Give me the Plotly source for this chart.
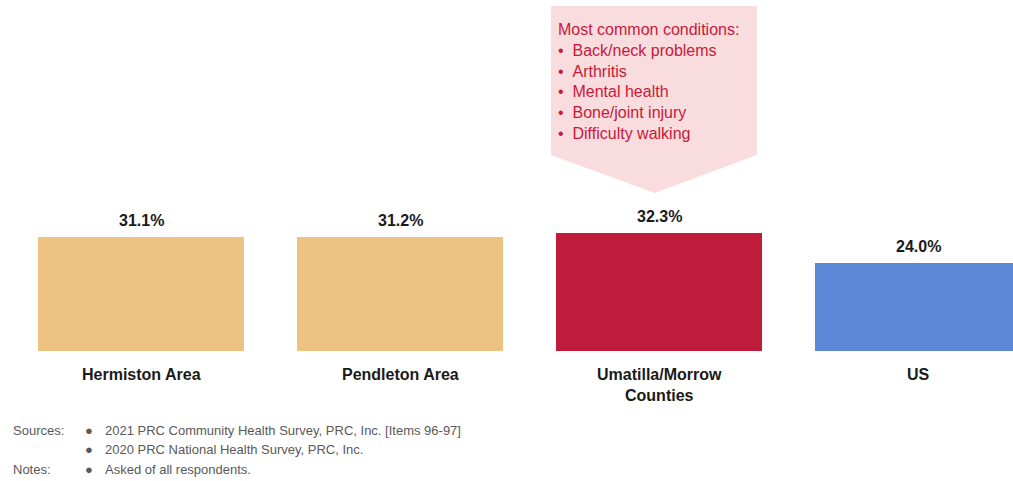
import plotly.graph_objects as go

categories = ["Hermiston Area", "Pendleton Area", "Umatilla/Morrow<br>Counties", "US"]
values = [31.1, 31.2, 32.3, 24.0]
colors = ["#EDC283", "#EDC283", "#BE1C3A", "#5B87D6"]
value_labels = ["31.1%", "31.2%", "32.3%", "24.0%"]
callout_lines = ["Most common conditions:", "Back/neck problems", "Arthritis",
                 "Mental health", "Bone/joint injury", "Difficulty walking"]
source_lines = ["2021 PRC Community Health Survey, PRC, Inc. [Items 96-97]",
                "2020 PRC National Health Survey, PRC, Inc."]
note_lines = ["Asked of all respondents."]

OFF = 0
W, H = 1013, 481
PLOT_H = 351
PX_PER_UNIT = 3.65
CAT_STEP = 259.0
X0_PX = 11.5

x_idx = list(range(len(categories)))
fig = go.Figure()
fig.add_trace(go.Bar(x=x_idx, y=values, marker=dict(color=colors, line=dict(width=0)),
                     width=206 / CAT_STEP, hoverinfo="skip"))

FONT = "Liberation Sans, Arial, sans-serif"
ann = []
for i, (v, lab) in enumerate(zip(values, value_labels)):
    ann.append(dict(x=i, y=v, xref="x", yref="y", text="<b>%s</b>" % lab, showarrow=False,
                    yanchor="bottom", yshift=6, font=dict(family=FONT, size=16, color="#1a1a1a")))
for i, c in enumerate(categories):
    ann.append(dict(x=i, y=0, xref="x", yref="y", text="<b>%s</b>" % c, showarrow=False,
                    yanchor="top", yshift=-13, font=dict(family=FONT, size=16, color="#1a1a1a")))

def py(p):
    return (PLOT_H - (p - OFF)) / PLOT_H

def px(p):
    return (p - OFF) / W

# callout shape (pentagon arrow) around Umatilla/Morrow bar
cx = 2
xl, xr, xt = cx - 0.417, cx + 0.378, cx - 0.016
ytop, yside, ytip = 94.5, 53.7, 43.3
fig.add_shape(type="path", xref="x", yref="y",
              path=f"M {xl},{ytop} L {xr},{ytop} L {xr},{yside} L {xt},{ytip} L {xl},{yside} Z",
              fillcolor="#F9DCDE", line=dict(width=0), layer="below")
callout_text = callout_lines[0] + "<br>" + "<br>".join("\u2022\u00a0\u00a0" + l for l in callout_lines[1:])
ann.append(dict(x=px(556), y=py(81.5), xref="paper", yref="paper", text=callout_text,
                showarrow=False, xanchor="left", yanchor="middle", align="left",
                font=dict(family=FONT, size=16, color="#C8193A")))

gray = "#595959"
small = dict(family=FONT, size=13, color=gray)
rows = [("Sources:", source_lines[0]), ("", source_lines[1]), ("Notes:", note_lines[0])]
ys = [430, 450, 469]
for (lbl, txt), yy in zip(rows, ys):
    if lbl:
        ann.append(dict(x=px(11), y=py(yy), xref="paper", yref="paper", text=lbl, showarrow=False,
                        xanchor="left", yanchor="middle", font=small))
    ann.append(dict(x=px(83), y=py(yy), xref="paper", yref="paper", text="\u25cf", showarrow=False,
                    xanchor="left", yanchor="middle", font=dict(family=FONT, size=13, color=gray)))
    ann.append(dict(x=px(103), y=py(yy), xref="paper", yref="paper", text=txt, showarrow=False,
                    xanchor="left", yanchor="middle", font=small))

fig.update_layout(
    width=W, height=H,
    margin=dict(l=0, r=0, t=0, b=H - PLOT_H, pad=0),
    paper_bgcolor="white", plot_bgcolor="white",
    showlegend=False,
    xaxis=dict(range=[-0.5 - X0_PX / CAT_STEP, -0.5 + (W - X0_PX) / CAT_STEP],
               showticklabels=False, showgrid=False, zeroline=False, showline=False, ticks="",
               fixedrange=True),
    yaxis=dict(range=[0, PLOT_H / PX_PER_UNIT], showticklabels=False, showgrid=False,
               zeroline=False, showline=False, ticks="", fixedrange=True),
    annotations=ann,
    bargap=0,
)
fig.write_html("out.html", config={"displayModeBar": False},
               post_script="document.body.style.margin='0';document.body.style.overflow='hidden';")
